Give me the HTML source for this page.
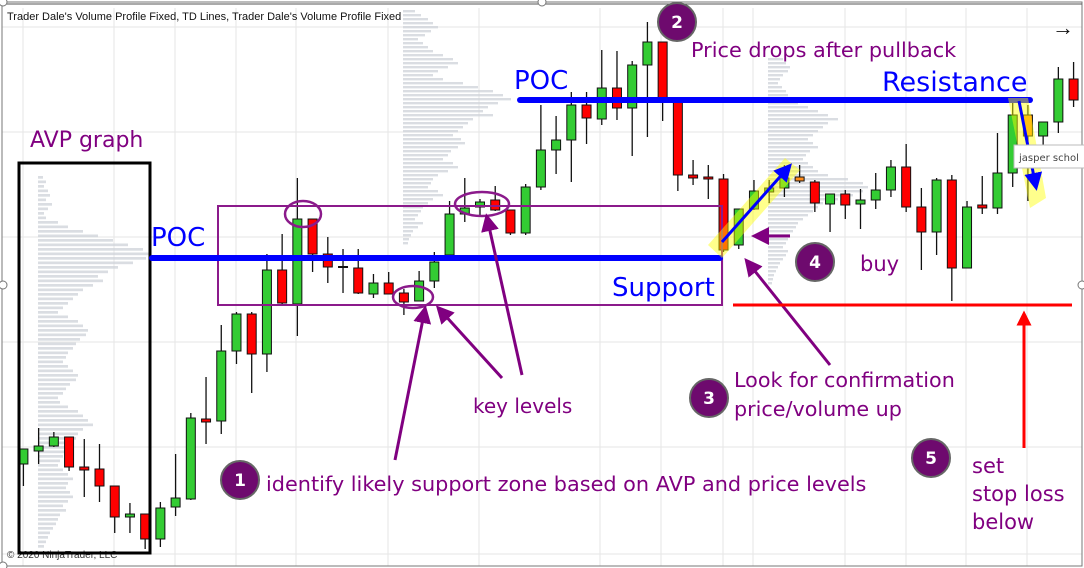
<!DOCTYPE html>
<html><head><meta charset="utf-8">
<style>
html,body{margin:0;padding:0;background:#fff;}
body{width:1084px;height:568px;overflow:hidden;font-family:"Liberation Sans","DejaVu Sans",sans-serif;}
svg{display:block;}
.ann{font-family:"DejaVu Sans","Liberation Sans",sans-serif;}
</style></head>
<body>
<svg id="chart" width="1084" height="568" viewBox="0 0 1084 568" xmlns="http://www.w3.org/2000/svg">
  <g id="grid"></g>
  <g id="profiles"></g>
  <g id="candles"></g>

  <rect x="2" y="2" width="1080" height="564" fill="none" stroke="#777" stroke-width="1"/>
  <line x1="2" y1="4" x2="1082" y2="4" stroke="#555" stroke-width="1"/>
  <circle cx="3" cy="2" r="4" fill="#fff" stroke="#777"/>
  <circle cx="542" cy="2" r="4" fill="#fff" stroke="#777"/>
  <circle cx="3" cy="285" r="4" fill="#fff" stroke="#777"/>
  <circle cx="1082" cy="285" r="4" fill="#fff" stroke="#777"/>
  <circle cx="3" cy="566" r="4" fill="#fff" stroke="#777"/>

  <text x="7" y="20" font-size="11" fill="#111" font-family="Liberation Sans, sans-serif">Trader Dale's Volume Profile Fixed, TD Lines, Trader Dale's Volume Profile Fixed</text>
  <text x="1052" y="35" font-size="22" fill="#111">→</text>
  <text x="7" y="558" font-size="10" fill="#333">© 2020 NinjaTrader, LLC</text>

  <text class="ann" x="30" y="147" font-size="22" fill="#800080">AVP graph</text>
  <rect x="19" y="163" width="131" height="390" fill="none" stroke="#000" stroke-width="3"/>

  <rect x="218" y="206" width="504" height="99" fill="none" stroke="#8b1a8b" stroke-width="2"/>
  <line x1="152" y1="258" x2="720" y2="258" stroke="#0000ff" stroke-width="6" stroke-linecap="round"/>
  <text class="ann" x="151" y="246" font-size="26" fill="#0000ff">POC</text>
  <text class="ann" x="612" y="296" font-size="26" fill="#0000ff">Support</text>

  <ellipse cx="303" cy="214" rx="18" ry="13" fill="none" stroke="#8b1a8b" stroke-width="2.5"/>
  <ellipse cx="482" cy="204" rx="27" ry="12" fill="none" stroke="#8b1a8b" stroke-width="2.5"/>
  <ellipse cx="413" cy="297" rx="20" ry="11" fill="none" stroke="#8b1a8b" stroke-width="2.5"/>

  <defs>
    <marker id="ap" markerWidth="6" markerHeight="6" refX="3" refY="3" orient="auto"><path d="M0,0 L6,3 L0,6 z" fill="#800080"/></marker>
    <marker id="ab" markerWidth="6" markerHeight="6" refX="3" refY="3" orient="auto"><path d="M0,0 L6,3 L0,6 z" fill="#0000ff"/></marker>
    <marker id="ar" markerWidth="5" markerHeight="5" refX="2.5" refY="2.5" orient="auto"><path d="M0,0 L5,2.5 L0,5 z" fill="#ff0000"/></marker>
  </defs>
  <line x1="395" y1="460" x2="424" y2="314" stroke="#800080" stroke-width="3" marker-end="url(#ap)"/>
  <line x1="502" y1="378" x2="442" y2="312" stroke="#800080" stroke-width="3" marker-end="url(#ap)"/>
  <line x1="522" y1="375" x2="488" y2="222" stroke="#800080" stroke-width="3" marker-end="url(#ap)"/>
  <text class="ann" x="473" y="413" font-size="20" fill="#800080">key levels</text>

  <line x1="520" y1="100" x2="1030" y2="100" stroke="#0000ff" stroke-width="6" stroke-linecap="round"/>
  <text class="ann" x="514" y="89" font-size="26" fill="#0000ff">POC</text>
  <text class="ann" x="882" y="91" font-size="27" fill="#0000ff">Resistance</text>

  <polygon points="708,245 785,158 800,170 722,258" fill="#ffff00" opacity="0.45"/>
  <line x1="722" y1="242" x2="786" y2="170" stroke="#0000ff" stroke-width="3" marker-end="url(#ab)"/>
  <line x1="790" y1="236" x2="760" y2="236" stroke="#800080" stroke-width="3" marker-end="url(#ap)"/>
  <line x1="830" y1="365" x2="750" y2="265" stroke="#800080" stroke-width="3" marker-end="url(#ap)"/>
  <text class="ann" x="860" y="271" font-size="21" fill="#800080">buy</text>
  <text class="ann" x="734" y="387" font-size="20.7" fill="#800080">Look for confirmation</text>
  <text class="ann" x="734" y="416" font-size="20.7" fill="#800080">price/volume up</text>
  <text class="ann" x="691" y="57" font-size="20.8" fill="#800080">Price drops after pullback</text>
  <text class="ann" x="266" y="491" font-size="20.8" fill="#800080">identify likely support zone based on AVP and price levels</text>

  <line x1="733" y1="305" x2="1072" y2="305" stroke="#ff0000" stroke-width="3"/>
  <line x1="1024" y1="448" x2="1024" y2="318" stroke="#ff0000" stroke-width="3" marker-end="url(#ar)"/>
  <text class="ann" x="972" y="473" font-size="21" fill="#800080">set</text>
  <text class="ann" x="972" y="501" font-size="21" fill="#800080">stop loss</text>
  <text class="ann" x="972" y="529" font-size="21" fill="#800080">below</text>

  <polygon points="1008,98 1028,98 1046,198 1030,208" fill="#ffff00" opacity="0.45"/>
  <line x1="1019" y1="101" x2="1035" y2="182" stroke="#0000ff" stroke-width="3" marker-end="url(#ab)"/>
  <rect x="1014" y="145" width="72" height="23" fill="#fff" stroke="#bbb"/>
  <text x="1019" y="161" font-size="10" fill="#444" font-family="DejaVu Sans, sans-serif">jasper schol</text>

  <g id="badges"></g>
</svg>
<script>
const opens  = [136,149,154,163,133,131,114,83,86,61,93,101,181,179,249,286,246,330,296,381,346,333,332,306,317,307,299,319,345,386,393,400,390,367,413,450,460,495,481,512,492,535,558,502,425,423,421,355,391,408,412,423,418,396,406,396,400,410,433,393,368,420,332,395,392,427,485,464,478,521];
const closes = [151,154,163,133,130,114,83,86,61,92,102,182,178,249,286,246,330,297,381,346,333,333,307,317,306,298,319,338,386,392,398,390,367,413,450,460,495,482,512,492,535,558,502,425,422,421,350,391,409,412,422,419,397,406,395,400,410,433,393,368,420,332,393,392,427,485,464,478,521,500];
const highs  = [151,172,168,163,161,156,114,97,86,98,146,187,223,275,288,288,346,366,422,381,363,351,351,326,328,311,329,348,399,422,401,414,390,416,495,484,508,508,550,549,539,578,558,502,440,435,426,391,420,420,435,435,420,406,410,411,427,440,456,412,422,425,399,424,467,498,495,478,533,538];
const lows   = [114,136,153,129,103,98,67,67,51,53,84,100,156,166,236,207,228,296,264,328,317,307,306,302,306,285,299,312,344,378,383,389,365,365,410,426,418,456,475,480,444,463,479,409,415,401,348,351,390,397,403,417,388,368,381,371,391,403,388,330,345,299,332,386,386,413,399,451,467,493];
const highlighted = [51,66];
const dojiIdx = [21];

const leftProfile = [5,8,6,10,12,8,14,10,6,8,20,30,45,60,75,90,105,112,108,95,80,70,60,65,55,45,40,35,30,25,20,30,40,45,50,48,42,38,35,30,28,25,30,35,40,38,32,28,25,20,22,30,40,45,50,55,45,40,38,35,30,28,25,22,20,25,30,35,30,28,32,35,30,25,28,22,20,18,15,12,10,8,6];
const midProfile = [12,18,25,30,35,28,22,15,20,25,30,40,50,55,45,35,30,40,60,75,90,100,108,95,85,80,90,70,65,60,55,50,58,62,55,48,45,40,50,55,45,35,30,28,25,35,40,30,25,20,18,15,12,20,15,10,8,6,5];
const rightProfile = [15,18,22,20,15,12,10,14,18,20,25,30,40,50,60,70,60,55,50,45,40,45,50,42,38,35,40,45,50,60,80,95,100,95,85,70,55,50,45,40,35,30,28,25,22,20,18,15,20,18,15,12,10,8,6,5,4];

const gridX = [23,114,175,236,296,388,479,600,661,723,753,845,906,966,1027];
const gridY = [27,132,237,342,447,554];

const NS = "http://www.w3.org/2000/svg";
function xScale(i){ return 23.4 + i*15.22; }
function yScale(p){ return 600 - p; }
function mk(tag, attrs, parent){ const e=document.createElementNS(NS,tag); for(const k in attrs) e.setAttribute(k,attrs[k]); parent.appendChild(e); return e; }

const grid = document.getElementById('grid');
gridX.forEach(x=>{ const l=mk('line',{x1:x,y1:8,x2:x,y2:566,stroke:'#e6e6e6','stroke-width':1},grid);
  
   });
gridY.forEach(y=>{ const l=mk('line',{x1:2,y1:y,x2:1082,y2:y,stroke:'#e6e6e6','stroke-width':1},grid);
  
   });

const prof = document.getElementById('profiles');
function drawProfile(arr, x0, y0, step, name){
  arr.forEach((v,k)=>{ const r=mk('rect',{x:x0,y:y0+k*step,width:v,height:step*0.6,fill:'#cdd1d8',opacity:0.75},prof);
    
     });
}
drawProfile(leftProfile, 38, 176, 4.5, 'left-profile-bar');
drawProfile(midProfile, 403, 10, 4, 'mid-profile-bar');
drawProfile(rightProfile, 768, 58, 4, 'right-profile-bar');

const cg = document.getElementById('candles');
opens.forEach((o,i)=>{
  const c=closes[i], x=xScale(i);
  const up = c>o;
  let fill = up ? '#33cc33' : '#ff0000';
  if(highlighted.includes(i)) fill='#ff8c1a';
  const w=mk('line',{x1:x,y1:yScale(highs[i]),x2:x,y2:yScale(lows[i]),stroke:'#111','stroke-width':1.3},cg);
  
  
  const top=yScale(Math.max(o,c)), bot=yScale(Math.min(o,c));
  if(dojiIdx.includes(i)){
    const d=mk('line',{x1:x-5,y1:top,x2:x+5,y2:top,stroke:'#111','stroke-width':2},cg);
    
    
  } else {
    const b=mk('rect',{x:x-4.5,y:top,width:9,height:Math.max(bot-top,2),fill:fill,stroke:'#111','stroke-width':1},cg);
    
    
  }
});

const badges=[[1,240,480],[2,677,22],[3,709,398],[4,815,262],[5,931,458]];
const bg=document.getElementById('badges');
badges.forEach(([n,cx,cy])=>{
  const g=mk('g',{},bg);
  
  
  mk('circle',{cx:cx,cy:cy,r:19,fill:'#6e0a6e',stroke:'#666','stroke-width':2},g);
  const t=mk('text',{x:cx,y:cy+6,'text-anchor':'middle','font-size':17,'font-weight':'bold',fill:'#fff','font-family':'DejaVu Sans, sans-serif'},g);
  t.textContent=n;
});
</script>
</body></html>
